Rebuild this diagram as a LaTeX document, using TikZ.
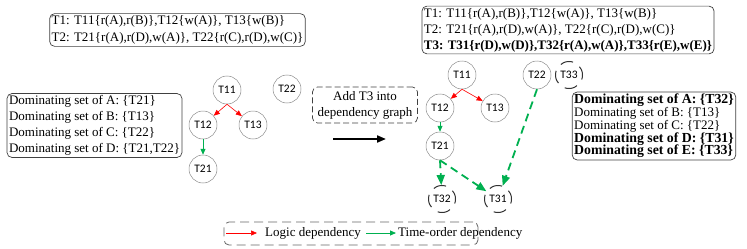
\documentclass[tikz,border=0pt]{standalone}
\usepackage{fontspec}
\setmainfont{Liberation Serif}
\newfontfamily\circfont{Carlito}
\usetikzlibrary{arrows.meta}
\definecolor{tgreen}{RGB}{0,176,80}
\definecolor{tred}{RGB}{255,0,0}
\newcommand{\bigbold}[1]{{\fontsize{13.8}{12.8}\selectfont\bfseries #1}}
\tikzset{
  infobox/.style={draw=black!75, line width=0.7pt, rounded corners=5pt, align=left, inner xsep=2pt, inner ysep=2pt},
  tnode/.style={circle, draw=black!45, line width=0.5pt, minimum size=28pt, inner sep=0pt, font=\circfont\fontsize{11.5}{12}\selectfont},
  newnode/.style={circle, draw=black!80, line width=1pt, dash pattern=on 13pt off 8pt, dash phase=4pt, minimum size=27pt, inner sep=0pt, font=\circfont\fontsize{11.5}{12}\selectfont},
  logic/.style={draw=tred, line width=0.6pt, -{Triangle[length=6pt,width=5pt]}},
  timeo/.style={draw=tgreen, line width=0.8pt, -{Triangle[length=6pt,width=5pt]}},
  timeonew/.style={draw=tgreen, line width=1.8pt, dash pattern=on 8pt off 5pt, -{Triangle[length=10pt,width=8pt]}},
}
\begin{document}
\begin{tikzpicture}[x=1pt,y=-1pt]
\useasboundingbox (0,0) rectangle (747,249);

% top-left box
\node[infobox, font=\fontsize{13}{17}\selectfont] (txl) at (177.5,30)
  {T1: T11\{r(A),r(B)\},T12\{w(A)\}, T13\{w(B)\}\\
   T2: T21\{r(A),r(D),w(A)\}, T22\{r(C),r(D),w(C)\}};

% top-right box
\node[infobox, font=\fontsize{13}{16}\selectfont] (txr) at (568,30)
  {T1: T11\{r(A),r(B)\},T12\{w(A)\}, T13\{w(B)\}\\
   T2: T21\{r(A),r(D),w(A)\}, T22\{r(C),r(D),w(C)\}\\
   \textbf{T3: T31\{r(D),w(D)\},T32\{r(A),w(A)\},T33\{r(E),w(E)\}}};

% left dominating box
\node[infobox, font=\fontsize{13}{16}\selectfont] (dl) at (94.5,125.5)
  {Dominating set of A: \{T21\}\\
   Dominating set of B: \{T13\}\\
   Dominating set of C: \{T22\}\\
   Dominating set of D: \{T21,T22\}};

% right dominating box
\node[infobox, font=\fontsize{13}{12.8}\selectfont] (dr) at (654,126)
  {\bigbold{Dominating set of A: \{T32\}}\\
   Dominating set of B: \{T13\}\\
   Dominating set of C: \{T22\}\\
   \bigbold{Dominating set of D: \{T31\}}\\
   \bigbold{Dominating set of E: \{T33\}}};

% left graph
\node[tnode] (a11) at (227,90) {T11};
\node[tnode] (a22) at (287,89) {T22};
\node[tnode] (a12) at (203,125) {T12};
\node[tnode] (a13) at (253,125) {T13};
\node[tnode] (a21) at (203,169) {T21};
\draw[logic] (a11.south) -- (a12);
\draw[logic] (a11.south) -- (a13);
\draw[timeo] (a12) -- (a21);

% middle
\node[draw=black!75, dash pattern=on 6pt off 3pt, line width=0.7pt, rounded corners=5pt, align=center, font=\fontsize{13}{16}\selectfont, minimum width=105pt, minimum height=36pt, inner sep=1pt] (add) at (365,105)
  {Add T3 into\\dependency graph};
\coordinate (ms) at (333,139);
\coordinate (me) at (386,139);
\draw[line width=2pt, -{Triangle[length=9pt,width=7pt]}] (ms) -- (me);

% right graph
\node[tnode] (b11) at (462,75) {T11};
\node[tnode] (b22) at (537,75) {T22};
\node[newnode] (b33) at (569,75) {T33};
\node[tnode] (b12) at (440,108) {T12};
\node[tnode] (b13) at (495,108) {T13};
\node[tnode] (b21) at (440,146) {T21};
\node[newnode] (b32) at (442,199) {T32};
\node[newnode] (b31) at (498,199) {T31};
\draw[logic] (b11.south) -- (b12);
\draw[logic] (b11.south) -- (b13);
\draw[timeo] (b12) -- (b21);
\draw[timeonew] (b21.south) -- (b32);
\draw[timeonew] (b21.south) -- (b31);
\draw[timeonew] (b22.south) -- (b31);

% legend
\node[draw=black!60, line width=0.8pt, dash pattern=on 9pt off 5pt, rounded corners=5pt, minimum width=254pt, minimum height=23pt, inner sep=0pt] (leg) at (351,233.5) {};
\coordinate (l1s) at (226,233);
\coordinate (l1e) at (257,233);
\draw[logic] (l1s) -- (l1e);
\node[font=\fontsize{13}{15}\selectfont, anchor=west, inner sep=0pt] (lt1) at (265,233) {Logic dependency};
\coordinate (l2s) at (366,233);
\coordinate (l2e) at (396,233);
\draw[timeo] (l2s) -- (l2e);
\node[font=\fontsize{13}{15}\selectfont, anchor=west, inner sep=0pt] (lt2) at (398,233) {Time-order dependency};
\end{tikzpicture}
\end{document}
